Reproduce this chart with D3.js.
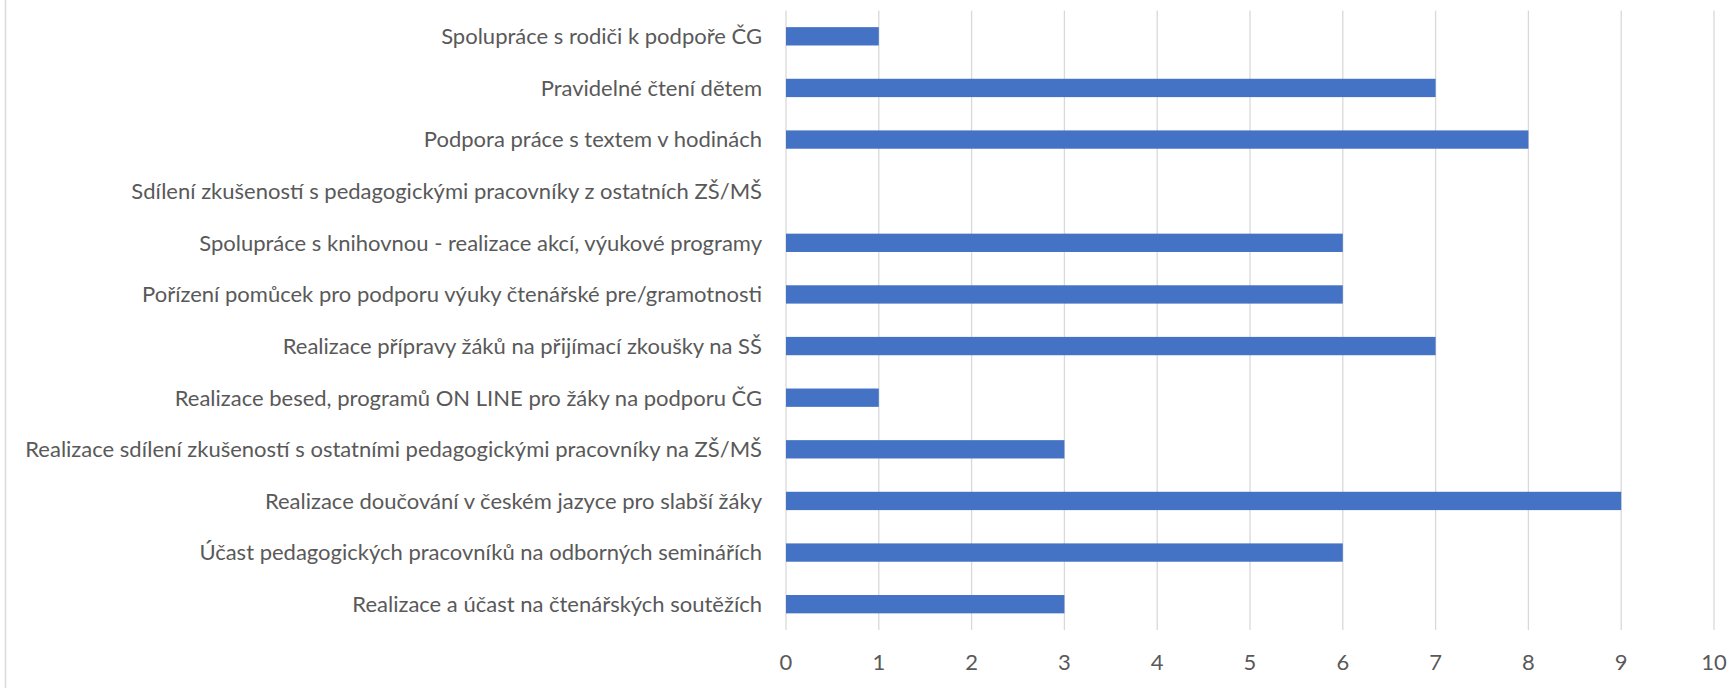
<!DOCTYPE html>
<html>
<head>
<meta charset="utf-8">
<script src="https://cdn.jsdelivr.net/npm/d3@7"></script>
<style>
  body { margin: 0; background: #fff; }
  svg { display: block; font-family: Lato, "Open Sans", sans-serif; }
</style>
</head>
<body>
<svg id="chart" width="1733" height="688"></svg>
<script>
// categories, top to bottom
var categories = [
    "Spolupráce s rodiči k podpoře ČG",
    "Pravidelné čtení dětem",
    "Podpora práce s textem v hodinách",
    "Sdílení zkušeností s pedagogickými pracovníky z ostatních ZŠ/MŠ",
    "Spolupráce s knihovnou - realizace akcí, výukové programy",
    "Pořízení pomůcek pro podporu výuky čtenářské pre/gramotnosti",
    "Realizace přípravy žáků na přijímací zkoušky na SŠ",
    "Realizace besed, programů ON LINE pro žáky na podporu ČG",
    "Realizace sdílení zkušeností s ostatními pedagogickými pracovníky na ZŠ/MŠ",
    "Realizace doučování v českém jazyce pro slabší žáky",
    "Účast pedagogických pracovníků na odborných seminářích",
    "Realizace a účast na čtenářských soutěžích"
];
var values = [1, 7, 8, 0, 6, 6, 7, 1, 3, 9, 6, 3];
var ticks = [0, 1, 2, 3, 4, 5, 6, 7, 8, 9, 10];

var svg = d3.select("#chart");
var textCol = "#595959";
var gridCol = "#d9d9d9";

// chart area left edge
svg.append("line")
    .attr("x1", 5.5).attr("x2", 5.5)
    .attr("y1", 0).attr("y2", 688)
    .attr("stroke", gridCol).attr("stroke-width", 1.5);

var x = d3.scaleLinear().domain([0, 10]).range([786, 1714]);
var y = d3.scaleBand().domain(categories).range([10.5, 630])
    .paddingInner(0.645).paddingOuter(0.3225);

// gridlines
svg.selectAll("line.grid")
    .data(ticks)
    .enter()
    .append("line")
    .attr("class", "grid")
    .attr("x1", (d)=>{ return x(d); })
    .attr("x2", (d)=>{ return x(d); })
    .attr("y1", 10.5)
    .attr("y2", 630)
    .attr("stroke", gridCol)
    .attr("stroke-width", 1.3);

// bars
svg.selectAll("rect.bar")
    .data(values)
    .enter()
    .append("rect")
    .attr("class", "bar")
    .attr("x", x(0))
    .attr("y", (d, i)=>{ return y(categories[i]); })
    .attr("width", (d)=>{ return x(d) - x(0); })
    .attr("height", y.bandwidth())
    .attr("fill", "#4472c4");

// category labels
svg.selectAll("text.cat")
    .data(categories)
    .enter()
    .append("text")
    .attr("class", "cat")
    .attr("x", 762)
    .attr("y", (d)=>{ return y(d) + y.bandwidth() / 2; })
    .attr("dy", "0.36em")
    .attr("text-anchor", "end")
    .attr("fill", textCol)
    .style("font-size", "22px")
    .text((d)=>{ return d; });

// x tick labels
svg.selectAll("text.tick")
    .data(ticks)
    .enter()
    .append("text")
    .attr("class", "tick")
    .attr("x", (d)=>{ return x(d); })
    .attr("y", 662)
    .attr("dy", "0.36em")
    .attr("text-anchor", "middle")
    .attr("fill", textCol)
    .style("font-size", "22px")
    .text((d)=>{ return d; });
</script>
</body>
</html>
